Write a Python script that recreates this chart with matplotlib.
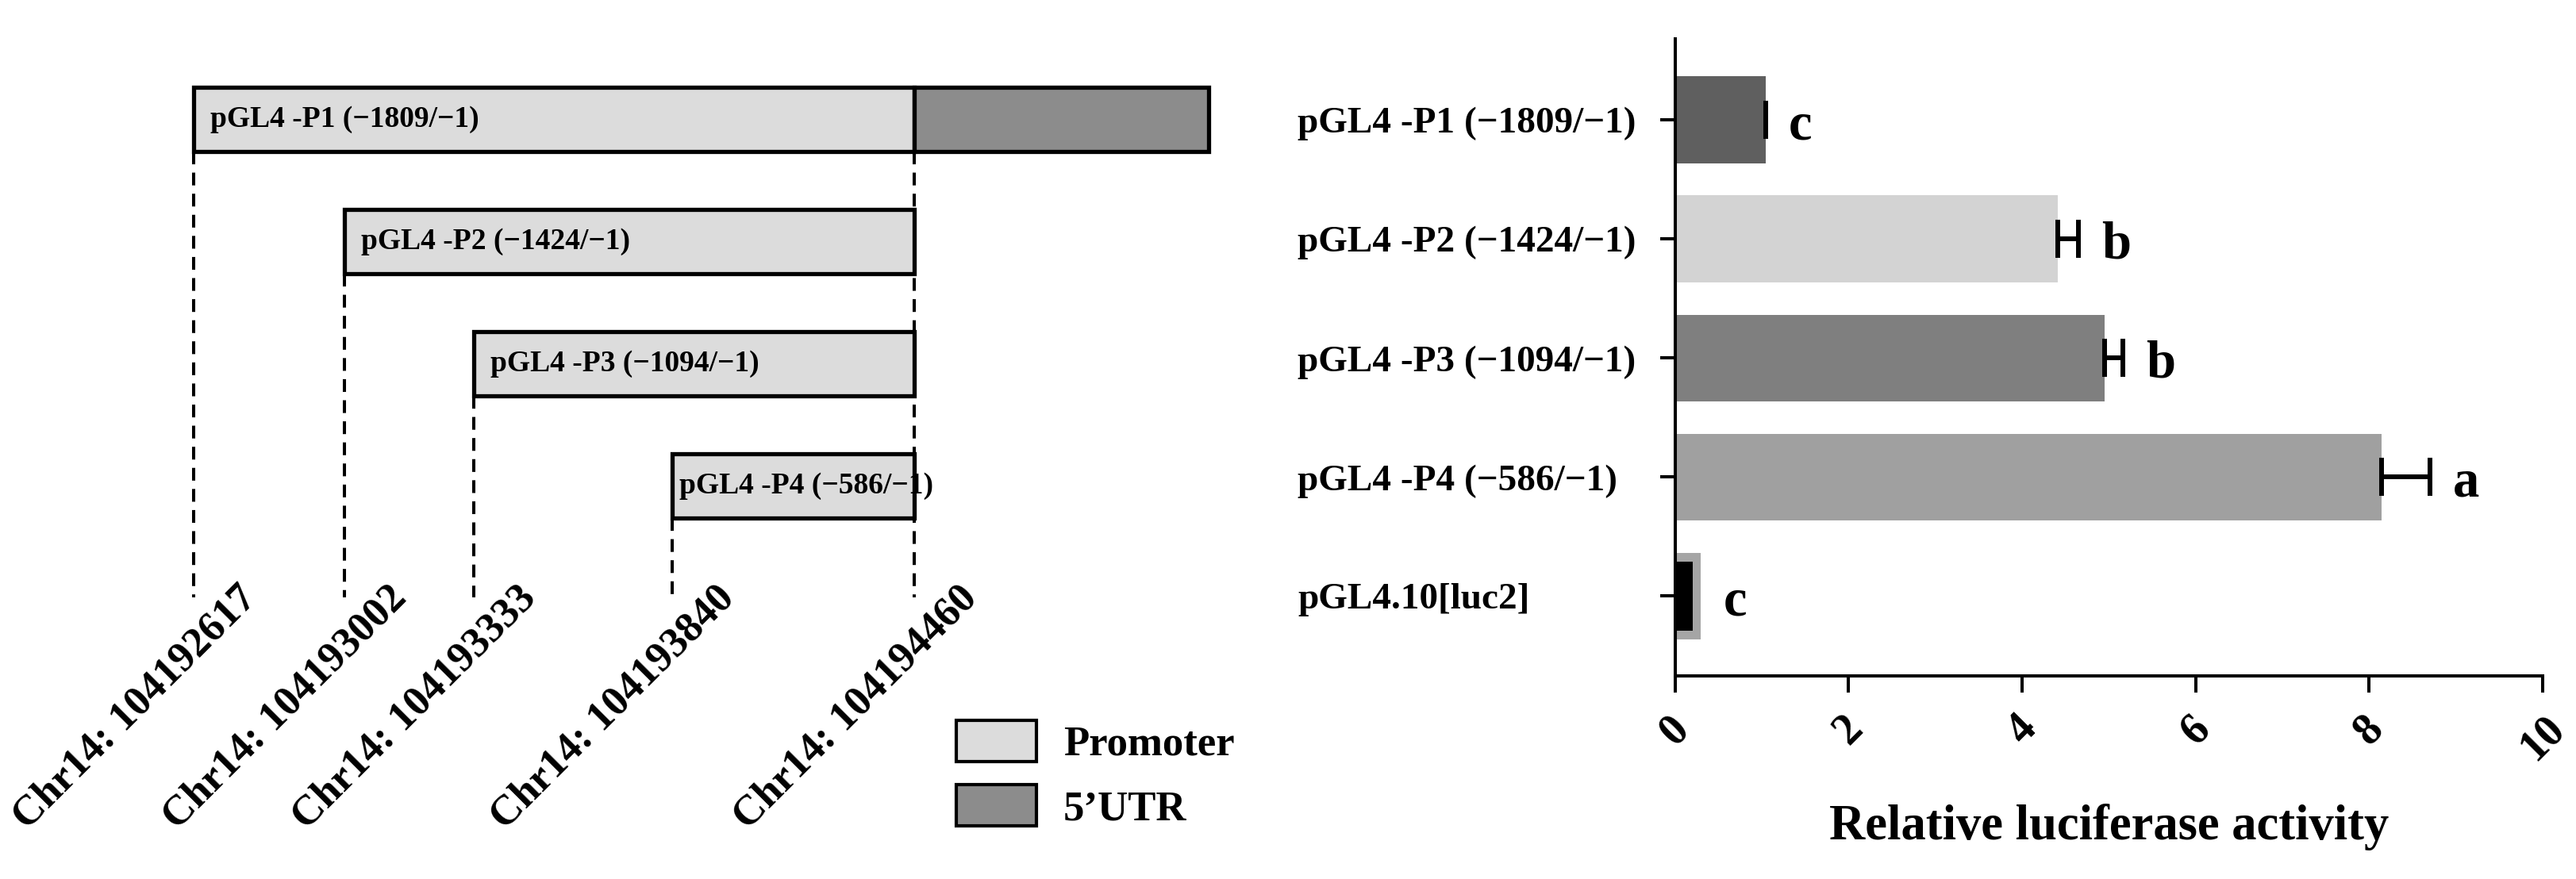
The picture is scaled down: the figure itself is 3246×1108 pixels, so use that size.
import matplotlib.pyplot as plt
from matplotlib.patches import Patch
from matplotlib.transforms import offset_copy

plt.rcParams['font.family'] = ['Liberation Serif', 'DejaVu Serif']
plt.rcParams['font.weight'] = 'bold'
plt.rcParams['axes.labelweight'] = 'bold'

# deletion constructs of the promoter (left schematic)
constructs = ["pGL4 -P1 (\u22121809/\u22121)", "pGL4 -P2 (\u22121424/\u22121)",
              "pGL4 -P3 (\u22121094/\u22121)", "pGL4 -P4 (\u2212586/\u22121)"]
starts = [104192617, 104193002, 104193333, 104193840]
tss = 104194460
utr_end = 104195213  # end of the 5'UTR block

# luciferase assay (right panel)
samples = constructs + ["pGL4.10[luc2]"]
activity = [1.04, 4.41, 4.95, 8.14, 0.29]
sem = [0.0, 0.24, 0.21, 0.56, 0.0]
ctrl_inner = 0.20
letters = ["c", "b", "b", "a", "c"]
bar_colors = ["#5f5f5f", "#d3d3d3", "#7f7f7f", "#a0a0a0", "#a5a5a5"]

PROM = "#dcdcdc"
UTR = "#8c8c8c"

fig = plt.figure(figsize=(32.46, 11.08), dpi=100)

# ---- left: construct map ----
ax = fig.add_axes([0, 0, 0.5, 1])
ax.set_xlim(104192121.7, 104195416)
ax.set_ylim(6.218, -0.977)
ax.axis("off")

h = 0.53
dash_end = 3.91
dash = (0, (4.0, 2.6))
text_pad = [15, 15, 15, 6.5]
for i, (lab, s) in enumerate(zip(constructs, starts)):
    ax.barh(i, tss - s, left=s, height=h, color=PROM, edgecolor="black",
            linewidth=3.8, zorder=3)
    ax.text(s, i, lab, fontsize=27, va="center", ha="left", zorder=4,
            transform=offset_copy(ax.transData, fig, x=text_pad[i], y=0, units="points"))
    ax.plot([s, s], [i + h / 2, dash_end], color="black", lw=2.9,
            linestyle=dash, zorder=2)
ax.barh(0, utr_end - tss, left=tss, height=h, color=UTR, edgecolor="black",
        linewidth=3.8, zorder=3)
ax.plot([tss, tss], [h / 2, dash_end], color="black", lw=2.9,
        linestyle=dash, zorder=2)

lab_tr = offset_copy(ax.transData, fig, x=58, y=-2, units="points")
for x in starts + [tss]:
    ax.text(x, dash_end, f"Chr14: {x}", fontsize=38, rotation=45,
            rotation_mode="anchor", ha="right", va="baseline", transform=lab_tr)

fig.legend(handles=[Patch(facecolor=PROM, edgecolor="black", lw=3, label="Promoter"),
                    Patch(facecolor=UTR, edgecolor="black", lw=3, label="5\u2019UTR")],
           loc="upper left", bbox_to_anchor=(1205 / 3246, 1 - 908 / 1108),
           frameon=False, fontsize=38, handlelength=1.91, handleheight=1.14,
           handletextpad=0.64, labelspacing=0.5, borderpad=0, borderaxespad=0)

# ---- right: relative luciferase activity ----
ax2 = fig.add_axes([0.6503, 0.2310, 0.3367, 0.7247])
pos = list(range(len(samples)))
ax2.barh(pos, activity, height=0.73, color=bar_colors, zorder=2)
ax2.barh(pos[-1], ctrl_inner, height=0.58, color="black", zorder=3)
ax2.errorbar(activity[:4], pos[:4], xerr=[[0] * 4, sem[:4]], fmt="none",
             ecolor="black", elinewidth=4.3, capsize=17.6, capthick=4.3, zorder=4)
for i, l in enumerate(letters):
    ax2.text(activity[i] + sem[i] + 0.27, i + 0.16, l, fontsize=48,
             fontweight="bold", ha="left", va="baseline")

ax2.set_xlim(0, 10)
ax2.set_ylim(4.67, -0.68)
ax2.set_xticks(range(0, 11, 2))
ax2.set_xticklabels([str(v) for v in range(0, 11, 2)], rotation=45,
                    fontsize=40, fontweight="bold")
ax2.set_yticks(pos)
ax2.set_yticklabels(samples, fontsize=34, fontweight="bold")
for t in ax2.get_yticklabels():
    t.set_ha("left")
ax2.tick_params(axis="x", length=15, width=2.9, pad=14)
ax2.tick_params(axis="y", length=13.7, width=2.9, pad=329)
for side in ["top", "right"]:
    ax2.spines[side].set_visible(False)
for side in ["left", "bottom"]:
    ax2.spines[side].set_linewidth(2.9)
ax2.set_xlabel("Relative luciferase activity", fontsize=45, fontweight="bold")
ax2.xaxis.set_label_coords(0.5, -0.20)

fig.savefig("out.png", dpi=100)
